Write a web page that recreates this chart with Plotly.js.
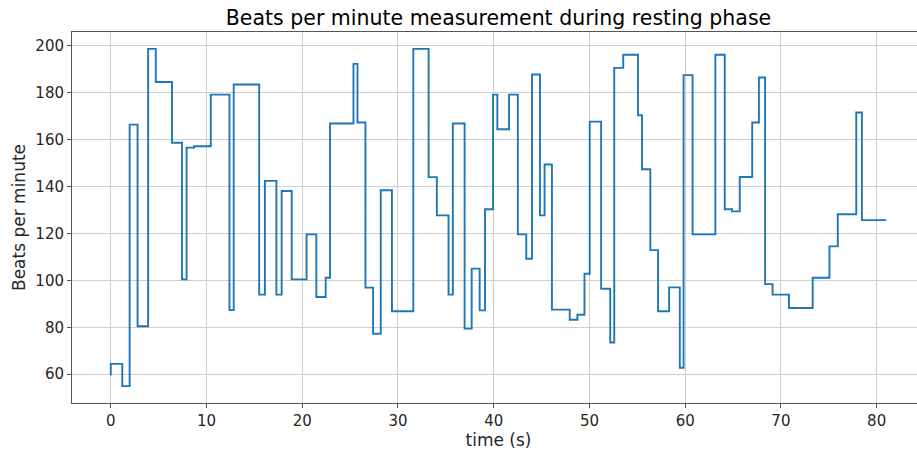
<!DOCTYPE html>
<html>
<head>
<meta charset="utf-8">
<script src="https://cdn.plot.ly/plotly-3.0.1.min.js"></script>
<style>
  html, body { margin: 0; padding: 0; overflow: hidden; background: #fff; }
  #chart { width: 930px; height: 450px; }
</style>
</head>
<body>
<div id="chart"></div>
<script>
// Sample times (s): each value below is held up to its time (step, "pre" style)
const timeSec = [0, 1.2, 1.97, 2.8, 3.9, 4.7, 6.4, 7.44, 7.92, 8.7, 10.45, 12.4, 12.84, 15.5, 16.1, 17.3, 17.85, 18.9, 20.45, 21.47,
  22.45, 22.9, 25.35, 25.77, 26.6, 27.4, 28.2, 29.37, 31.6, 33.2, 34.06, 35.28, 35.73, 36.96, 37.7, 38.53, 39.09, 39.93, 40.38, 41.6,
  42.52, 43.4, 44.0, 44.83, 45.31, 46.08, 47.94, 48.74, 49.48, 50.03, 51.22, 52.17, 52.59, 53.53, 55.07, 55.49, 56.36, 57.17, 58.32, 59.44,
  59.83, 60.77, 63.15, 64.13, 64.9, 65.7, 67.0, 67.7, 68.35, 69.13, 70.84, 73.32, 75.07, 75.94, 77.87, 78.46, 81.0];

// Heart rate readings (beats per minute)
const bpm = [59.4, 64.4, 54.9, 166.4, 80.4, 198.7, 184.6, 158.7, 100.4, 156.6, 157.2, 179.2, 87.3, 183.5, 93.9, 142.4, 93.9, 138.1, 100.4, 119.6,
  92.9, 101.1, 166.9, 192.3, 167.3, 96.9, 77.2, 138.4, 86.8, 198.7, 144.0, 127.7, 93.9, 166.9, 79.4, 105.0, 87.2, 130.3, 179.2, 164.4,
  179.2, 119.6, 109.2, 187.8, 127.7, 149.4, 87.5, 83.2, 85.3, 102.8, 167.7, 96.4, 73.5, 190.6, 196.2, 170.4, 147.4, 112.9, 86.8, 97.0,
  62.7, 187.5, 119.6, 196.2, 130.3, 129.4, 144.1, 167.3, 186.5, 98.4, 93.9, 88.2, 101.1, 114.5, 128.2, 171.6, 125.7];

const xTicks = [0, 10, 20, 30, 40, 50, 60, 70, 80];
const yTicks = [60, 80, 100, 120, 140, 160, 180, 200];

const font = 'DejaVu Sans, sans-serif';
const ink = '#262626';

const trace = {
  x: timeSec,
  y: bpm,
  type: 'scatter',
  mode: 'lines',
  line: { shape: 'vh', color: '#1f77b4', width: 1.9 },
  hoverinfo: 'x+y'
};

const axisCommon = {
  showgrid: true,
  gridcolor: '#cfcfcf',
  gridwidth: 1,
  zeroline: false,
  showline: true,
  linecolor: '#555555',
  linewidth: 1,
  mirror: true,
  ticks: 'outside',
  ticklen: 4,
  tickwidth: 1,
  tickcolor: '#555555',
  tickfont: { family: font, size: 15, color: ink }
};

const layout = {
  width: 930,
  height: 450,
  margin: { l: 72, r: 5, t: 32, b: 47 },
  paper_bgcolor: '#ffffff',
  plot_bgcolor: '#ffffff',
  showlegend: false,
  title: {
    text: 'Beats per minute measurement during resting phase',
    font: { family: font, size: 20.5, color: '#000000' },
    xref: 'paper', x: 0.5, xanchor: 'center',
    yref: 'container', y: 1 - 18 / 450, yanchor: 'middle'
  },
  xaxis: Object.assign({}, axisCommon, {
    range: [-4.05, 85.05],
    tickvals: xTicks,
    ticktext: xTicks.map(String),
    title: { text: 'time (s)', font: { family: font, size: 17, color: ink }, standoff: 3 }
  }),
  yaxis: Object.assign({}, axisCommon, {
    range: [47.7, 205.9],
    tickvals: yTicks,
    ticktext: yTicks.map(String),
    title: { text: 'Beats per minute', font: { family: font, size: 17, color: ink }, standoff: 5 }
  })
};

Plotly.newPlot('chart', [trace], layout, { displayModeBar: false, staticPlot: true });
</script>
</body>
</html>
